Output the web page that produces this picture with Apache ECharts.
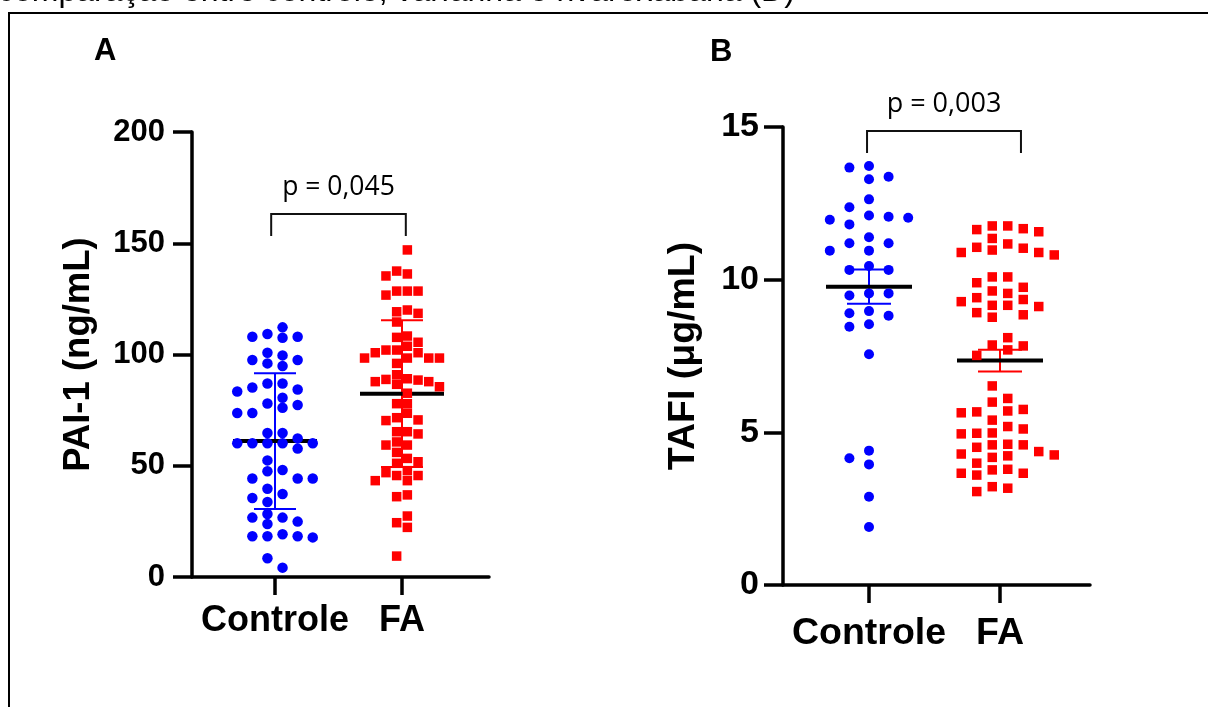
<!DOCTYPE html>
<html>
<head>
<meta charset="utf-8">
<script src="https://cdn.jsdelivr.net/npm/echarts@6.0.0/dist/echarts.min.js"></script>
<style>
    html, body {margin: 0; padding: 0; background: #fff;}
    #chart {width: 1208px; height: 707px;}
</style>
</head>
<body>
<div id="chart"></div>
<script>
var categories = ['Controle', 'FA'];

// A - PAI-1 (ng/mL)
var pai1Controle = [112.2, 109.2, 108.0, 107.5, 108.0, 100.8, 99.6, 97.5, 97.5, 96.0, 94.8, 87.0, 87.0, 85.2, 84.3,
    83.4, 80.6, 78.0, 77.3, 76.1, 73.7, 73.7, 64.7, 64.7, 62.3, 60.1, 60.1, 60.1, 60.1, 60.1, 57.7, 52.4, 48.1, 47.5,
    44.3, 44.3, 44.3, 39.7, 37.3, 35.5, 33.7, 28.3, 26.7, 26.7, 24.9, 23.8, 19.2, 18.3, 18.3, 18.3, 17.8, 8.4, 4.2];
var pai1FA = [147.0, 137.5, 136.2, 135.3, 128.5, 128.5, 128.5, 126.7, 120.0, 119.2, 118.5, 114.6, 108.3, 107.7, 105.5,
    103.7, 102.0, 102.0, 100.8, 100.8, 98.4, 98.4, 98.4, 98.4, 96.0, 90.9, 89.1, 88.8, 88.5, 87.8, 87.8, 86.6, 85.5,
    82.6, 77.9, 77.9, 73.6, 71.6, 70.6, 70.3, 65.3, 65.3, 64.3, 60.7, 59.3, 59.3, 56.0, 53.3, 51.8, 51.1, 47.8, 46.9,
    45.6, 45.6, 43.3, 43.3, 36.9, 36.1, 27.4, 24.4, 22.3, 9.4];
var pai1Mean = [61.1, 82.4];
var pai1SD = [30.5, 33.0];

// B - TAFI (ug/mL)
var tafiControle = [13.72, 13.67, 13.37, 13.29, 12.63, 12.37, 12.06, 12.10, 12.03, 11.96, 11.81, 11.39, 11.19, 11.19,
    10.95, 10.95, 10.45, 10.32, 10.32, 9.55, 9.55, 9.48, 8.97, 8.90, 8.82, 8.54, 8.46, 7.56, 4.40, 4.15, 3.95, 2.89, 1.90];
var tafiFA = [11.76, 11.76, 11.67, 11.64, 11.57, 11.35, 11.17, 11.06, 11.03, 10.97, 10.89, 10.89, 10.81, 10.09, 10.09,
    9.90, 9.75, 9.63, 9.55, 9.41, 9.35, 9.28, 9.16, 9.16, 9.12, 8.92, 8.85, 8.77, 8.10, 7.86, 7.83, 7.70, 7.52, 6.52,
    6.11, 5.99, 5.75, 5.70, 5.67, 5.64, 5.40, 5.19, 5.11, 4.98, 4.97, 4.95, 4.61, 4.59, 4.59, 4.51, 4.37, 4.29, 4.26,
    4.23, 4.18, 3.99, 3.79, 3.77, 3.66, 3.66, 3.60, 3.22, 3.17, 3.06];
var tafiMean = [9.77, 7.35];
var tafiSEM = [0.56, 0.355];

var pTexts = ['p = 0,045', 'p = 0,003'];

var BLUE = '#0000ff';
var RED = '#ff0000';
var FONT = '"Liberation Sans", Arial, sans-serif';

// layout of the two panels
var panels = [
    {grid: {left: 192, top: 132, width: 297, height: 445}, xMin: 0.3465, xMax: 2.685, yMax: 200, yInt: 50,
        name: 'PAI-1 (ng/mL)', nameGap: 95, nameFont: 36.5, tickFont: 31, labelMargin: 27, catFont: 36, catMargin: 26,
        bracket: {x1: 0.97, x2: 2.03, yTop: 163.1, yLeg: 153.3}, pFont: 26.5},
    {grid: {left: 783, top: 127, width: 307, height: 458}, xMin: 0.3435, xMax: 2.687, yMax: 15, yInt: 5,
        name: 'TAFI (\u03bcg/mL)', nameGap: 80, nameFont: 37.5, tickFont: 34, labelMargin: 24, catFont: 37.5, catMargin: 30,
        bracket: {x1: 0.985, x2: 2.16, yTop: 14.87, yLeg: 14.15}, pFont: 27}
];

// beeswarm: each point takes the lane nearest the centre that is free at its height
var swarm = function (values, cat, p, step, minDy, half) {
    var pxX = p.grid.width / (p.xMax - p.xMin);
    var pxY = p.grid.height / p.yMax;
    var sorted = values.slice().sort(function (a, b) { return b - a; });
    var placed = [];
    var out = [];
    for (var i = 0; i < sorted.length; i++) {
        var y = sorted[i] * pxY;
        var lane = null;
        var sgn = (i % 2 == 0) ? 1 : -1;
        for (var k = 0; k < 20 && lane === null; k++) {
            var cands = half ? [sgn * (k + 0.5), -sgn * (k + 0.5)] : (k == 0 ? [0] : [sgn * k, -sgn * k]);
            for (var c = 0; c < cands.length; c++) {
                var ok = true;
                for (var j = 0; j < placed.length; j++) {
                    if (placed[j].lane == cands[c] && Math.abs(placed[j].y - y) < minDy) { ok = false; break; }
                }
                if (ok) { lane = cands[c]; break; }
            }
        }
        placed.push({lane: lane, y: y});
        out.push([cat + lane * step / pxX, sorted[i]]);
    }
    return out;
};

var statsRender = function (colors, meanHalf, capHalf) {
    return function (params, api) {
        var x = api.value(0), m = api.value(1), e = api.value(2);
        var c = api.coord([x, m]);
        var top = api.coord([x, m + e]);
        var bot = api.coord([x, m - e]);
        var col = colors[params.dataIndex];
        return {
            type: 'group',
            children: [
                {type: 'line', shape: {x1: c[0], y1: top[1], x2: c[0], y2: bot[1]}, style: {stroke: col, lineWidth: 2}},
                {type: 'line', shape: {x1: c[0] - capHalf, y1: top[1], x2: c[0] + capHalf, y2: top[1]}, style: {stroke: col, lineWidth: 2}},
                {type: 'line', shape: {x1: c[0] - capHalf, y1: bot[1], x2: c[0] + capHalf, y2: bot[1]}, style: {stroke: col, lineWidth: 2}},
                {type: 'line', shape: {x1: c[0] - meanHalf, y1: c[1], x2: c[0] + meanHalf, y2: c[1]}, style: {stroke: '#000', lineWidth: 4}}
            ]
        };
    };
};

var bracketRender = function (p, text) {
    return function (params, api) {
        var b = p.bracket;
        var l = api.coord([b.x1, b.yLeg]);
        var lt = api.coord([b.x1, b.yTop]);
        var r = api.coord([b.x2, b.yLeg]);
        return {
            type: 'group',
            children: [
                {type: 'polyline', shape: {points: [[l[0], l[1]], [lt[0], lt[1]], [r[0], lt[1]], [r[0], r[1]]]},
                    style: {stroke: '#111', lineWidth: 2, fill: null}},
                {type: 'text', x: (l[0] + r[0]) / 2, y: lt[1] - 27,
                    style: {text: text, fill: '#000', fontSize: p.pFont, fontFamily: '"Open Sans", sans-serif',
                        align: 'center', verticalAlign: 'middle'}}
            ]
        };
    };
};

var chart = echarts.init(document.getElementById('chart'));

var grids = [], xAxes = [], yAxes = [];
panels.forEach(function (p, i) {
    grids.push(p.grid);
    xAxes.push({
        gridIndex: i, type: 'value', min: p.xMin, max: p.xMax,
        splitLine: {show: false},
        axisLine: {show: true, onZero: false, lineStyle: {color: '#000', width: 3.5}},
        axisTick: {show: true, customValues: [1, 2], length: 18, lineStyle: {color: '#000', width: 3.5}},
        axisLabel: {
            customValues: [1, 2], margin: p.catMargin, color: '#000', fontSize: p.catFont, fontWeight: 'bold', fontFamily: FONT,
            formatter: function (v) { return categories[Math.round(v) - 1]; }
        }
    });
    yAxes.push({
        gridIndex: i, type: 'value', min: 0, max: p.yMax, interval: p.yInt,
        name: p.name, nameLocation: 'middle', nameGap: p.nameGap,
        nameTextStyle: {color: '#000', fontSize: p.nameFont, fontWeight: 'bold', fontFamily: FONT},
        splitLine: {show: false},
        axisLine: {show: true, onZero: false, lineStyle: {color: '#000', width: 3.5}},
        axisTick: {show: true, length: 19, lineStyle: {color: '#000', width: 3.5}},
        axisLabel: {margin: p.labelMargin, color: '#000', fontSize: p.tickFont, fontWeight: 'bold', fontFamily: FONT}
    });
});

var option = {
    animation: false,
    grid: grids,
    xAxis: xAxes,
    yAxis: yAxes,
    graphic: [
        {type: 'text', left: -2, top: -24, silent: true,
            style: {text: 'comparação entre controle, varfarina e rivaroxabana (D)', fontSize: 32, fontFamily: FONT, fill: '#000'}},
        {type: 'rect', silent: true, shape: {x: 9, y: 13, width: 1300, height: 800},
            style: {fill: 'none', stroke: '#000', lineWidth: 2}},
        {type: 'text', left: 94, top: 36, style: {text: 'A', fontSize: 31, fontWeight: 'bold', fontFamily: FONT, fill: '#000'}},
        {type: 'text', left: 710, top: 37, style: {text: 'B', fontSize: 31, fontWeight: 'bold', fontFamily: FONT, fill: '#000'}}
    ],
    series: [
        {type: 'scatter', xAxisIndex: 0, yAxisIndex: 0, symbol: 'circle', symbolSize: 10.5, itemStyle: {color: BLUE, opacity: 1},
            data: swarm(pai1Controle, 1, panels[0], 15.1, 10, true)},
        {type: 'scatter', xAxisIndex: 0, yAxisIndex: 0, symbol: 'rect', symbolSize: 9.5, itemStyle: {color: RED, opacity: 1},
            data: swarm(pai1FA, 2, panels[0], 10.7, 9.5, true)},
        {type: 'custom', xAxisIndex: 0, yAxisIndex: 0, renderItem: statsRender([BLUE, RED], 42, 21), clip: false,
            data: [[1, pai1Mean[0], pai1SD[0]], [2, pai1Mean[1], pai1SD[1]]]},
        {type: 'custom', xAxisIndex: 0, yAxisIndex: 0, renderItem: bracketRender(panels[0], pTexts[0]), clip: false,
            data: [[1, 0]]},
        {type: 'scatter', xAxisIndex: 1, yAxisIndex: 1, symbol: 'circle', symbolSize: 10, itemStyle: {color: BLUE, opacity: 1},
            data: swarm(tafiControle, 1, panels[1], 19.6, 13, false)},
        {type: 'scatter', xAxisIndex: 1, yAxisIndex: 1, symbol: 'rect', symbolSize: 9.5, itemStyle: {color: RED, opacity: 1},
            data: swarm(tafiFA, 2, panels[1], 15.5, 11, true)},
        {type: 'custom', xAxisIndex: 1, yAxisIndex: 1, renderItem: statsRender([BLUE, RED], 43, 22), clip: false,
            data: [[1, tafiMean[0], tafiSEM[0]], [2, tafiMean[1], tafiSEM[1]]]},
        {type: 'custom', xAxisIndex: 1, yAxisIndex: 1, renderItem: bracketRender(panels[1], pTexts[1]), clip: false,
            data: [[1, 0]]}
    ]
};
chart.setOption(option);
</script>
</body>
</html>
